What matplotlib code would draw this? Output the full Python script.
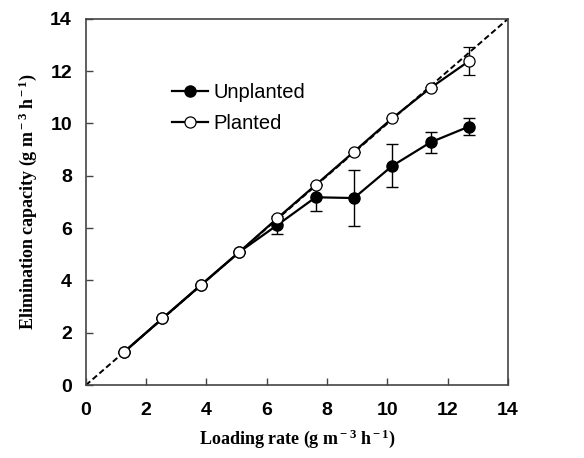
import matplotlib.pyplot as plt

loading = [1.27, 2.54, 3.81, 5.08, 6.35, 7.62, 8.89, 10.16, 11.43, 12.70]
unplanted = [1.27, 2.55, 3.82, 5.08, 6.12, 7.18, 7.15, 8.38, 9.28, 9.88]
unplanted_err = [0, 0, 0, 0, 0.35, 0.52, 1.07, 0.82, 0.40, 0.33]
planted = [1.27, 2.55, 3.82, 5.08, 6.38, 7.65, 8.92, 10.20, 11.36, 12.38]
planted_err = [0, 0, 0, 0, 0, 0, 0, 0, 0.05, 0.54]
ticks = [0, 2, 4, 6, 8, 10, 12, 14]

plt.rcParams['mathtext.fontset'] = 'custom'
plt.rcParams['mathtext.rm'] = 'Liberation Serif:bold'
plt.rcParams['mathtext.it'] = 'Liberation Serif:bold'
plt.rcParams['mathtext.bf'] = 'Liberation Serif:bold'

fig = plt.figure(figsize=(5.84, 4.58), dpi=100)
ax = fig.add_axes([0.147, 0.159, 0.723, 0.800])

ax.plot([0, 14], [0, 14], color='black', linestyle='--', linewidth=1.4, dashes=(3, 1.6))
ax.errorbar(loading, unplanted, yerr=unplanted_err, color='black', marker='o',
            markersize=8, markerfacecolor='black', markeredgecolor='black',
            linewidth=1.6, elinewidth=1, capsize=4, capthick=1, label='Unplanted')
ax.errorbar(loading, planted, yerr=planted_err, color='black', marker='o',
            markersize=8, markerfacecolor='white', markeredgecolor='black',
            markeredgewidth=0.9, linewidth=1.6, elinewidth=1, capsize=4, capthick=1,
            label='Planted')

ax.set_xlim(0, 14)
ax.set_ylim(0, 14)
ax.set_xticks(ticks)
ax.set_yticks(ticks)
for sp in ax.spines.values():
    sp.set_color('#444444')
    sp.set_linewidth(1.2)
ax.tick_params(direction='in', length=5, width=1, color='#444444')
ax.tick_params(axis='x', pad=12)
ax.tick_params(axis='y', pad=10)
for lab in ax.get_xticklabels() + ax.get_yticklabels():
    lab.set_fontfamily('Liberation Sans')
    lab.set_fontweight('bold')
    lab.set_fontsize(14)

ax.set_xlabel(r'Loading rate (g m$^{\rm -3}$ h$^{\rm -1}$)', fontfamily='Liberation Serif',
              fontweight='bold', fontsize=13, labelpad=6)
ax.set_ylabel(r'Elimination capacity (g m$^{\rm -3}$ h$^{\rm -1}$)', fontfamily='Liberation Serif',
              fontweight='bold', fontsize=13, labelpad=8)

handles, labels = ax.get_legend_handles_labels()
handles = [h[0] for h in handles]
ax.legend(handles, labels, loc='upper left', bbox_to_anchor=(0.16, 0.875), frameon=False,
          prop={'family': 'Liberation Sans', 'size': 14.5}, handlelength=1.8,
          handletextpad=0.3, labelspacing=0.6)

fig.savefig('out.png', dpi=100)
